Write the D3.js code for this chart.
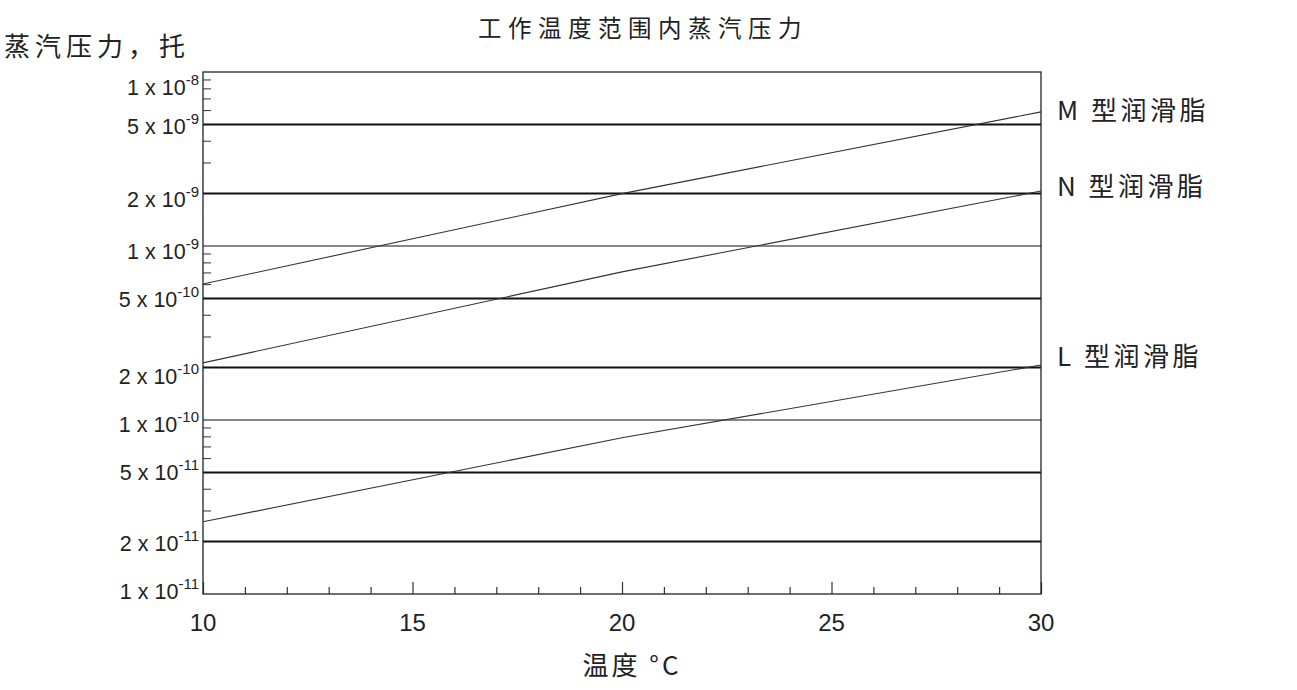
<!DOCTYPE html>
<html>
<head>
<meta charset="utf-8">
<script src="https://cdn.jsdelivr.net/npm/d3@7/dist/d3.min.js"></script>
<style>
  html, body { margin: 0; padding: 0; background: #fff; }
  svg { display: block; }
</style>
</head>
<body>
<svg id="chart" width="1297" height="690"></svg>
<script>
// ---- data ----
const temperatures = [10, 20, 30];
const seriesNames = ["M 型润滑脂", "N 型润滑脂", "L 型润滑脂"];
const mValues = [6.05e-10, 2.0e-9, 5.9e-9];
const nValues = [2.13e-10, 7.1e-10, 2.07e-9];
const lValues = [2.6e-11, 7.9e-11, 2.07e-10];
const gridMajor = [1e-10, 1e-9];                       // thin lines
const gridBold = [2e-11, 5e-11, 2e-10, 5e-10, 2e-9, 5e-9]; // bold lines
const yTickValues = [1e-8, 5e-9, 2e-9, 1e-9, 5e-10, 2e-10, 1e-10, 5e-11, 2e-11, 1e-11];
const yTickMantissa = ["1", "5", "2", "1", "5", "2", "1", "5", "2", "1"];
const yTickExponent = ["-8", "-9", "-9", "-9", "-10", "-10", "-10", "-11", "-11", "-11"];
const yMinorTicks = [9e-9, 8e-9, 7e-9, 6e-9, 4e-9, 3e-9,
                     9e-10, 8e-10, 7e-10, 6e-10, 4e-10, 3e-10,
                     9e-11, 8e-11, 7e-11, 6e-11, 4e-11, 3e-11];
const xTickLabels = [10, 15, 20, 25, 30];
const titleText = "工作温度范围内蒸汽压力";
const yTitle = "蒸汽压力，托";
const xTitle = "温度 °C";

// ---- layout ----
const pLeft = 203, pRight = 1041, pTop = 72, pBottom = 594;
const svg = d3.select("#chart");
const x = d3.scaleLinear().domain([10, 30]).range([pLeft, pRight]);
const y = d3.scaleLog().domain([1e-11, 1e-8]).range([pBottom, pTop]);
const latin = "'Liberation Sans', Arial, sans-serif";
const cjk = "'Noto Sans CJK SC', 'Noto Sans', sans-serif";
const labelDy = [16, 3, 6, 6, 2, 9, 5, 1, 2, -2];

// grid lines
svg.append("g").selectAll("line").data(gridMajor).join("line")
  .attr("x1", pLeft).attr("x2", pRight)
  .attr("y1", d => y(d)).attr("y2", d => y(d))
  .attr("stroke", "#111").attr("stroke-width", 1.2);
svg.append("g").selectAll("line").data(gridBold).join("line")
  .attr("x1", pLeft).attr("x2", pRight)
  .attr("y1", d => y(d)).attr("y2", d => y(d))
  .attr("stroke", "#111").attr("stroke-width", 2);

// minor y ticks (inside)
svg.append("g").selectAll("line").data(yMinorTicks).join("line")
  .attr("x1", pLeft).attr("x2", pLeft + 8)
  .attr("y1", d => y(d)).attr("y2", d => y(d))
  .attr("stroke", "#333").attr("stroke-width", 1);

// x axis ticks (inside)
const xAxis = d3.axisTop(x)
  .tickValues(d3.range(10, 31, 1))
  .tickSize(0)
  .tickFormat("");
const gx = svg.append("g").attr("transform", `translate(0,${pBottom})`).call(xAxis);
gx.select(".domain").remove();
gx.selectAll(".tick line")
  .attr("y2", d => d % 5 === 0 ? -12 : -7)
  .attr("stroke", "#333").attr("stroke-width", 1.2);

// x tick labels
svg.append("g").selectAll("text").data(xTickLabels).join("text")
  .attr("x", d => x(d)).attr("y", 631)
  .attr("text-anchor", "middle")
  .attr("font-family", latin).attr("font-size", 24).attr("fill", "#222")
  .text(d => d);

// y tick labels
const yl = svg.append("g").selectAll("text").data(yTickValues).join("text")
  .attr("x", 199).attr("y", (d, i) => y(d) + labelDy[i] + 7)
  .attr("text-anchor", "end")
  .attr("font-family", latin).attr("font-size", 21.5).attr("fill", "#222");
yl.append("tspan").text((d, i) => yTickMantissa[i] + " x 10");
yl.append("tspan").attr("dy", -10).attr("font-size", 15).text((d, i) => yTickExponent[i]);

// plot frame
svg.append("rect")
  .attr("x", pLeft).attr("y", pTop)
  .attr("width", pRight - pLeft).attr("height", pBottom - pTop)
  .attr("fill", "none").attr("stroke", "#222").attr("stroke-width", 1.3);

// series lines
const line = d3.line().x((d, i) => x(temperatures[i])).y(d => y(d));
const allSeries = [mValues, nValues, lValues];
svg.append("g").selectAll("path").data(allSeries).join("path")
  .attr("d", d => line(d))
  .attr("fill", "none").attr("stroke", "#333").attr("stroke-width", 1.1);

// series labels
const seriesLabelDy = [8, 5, 1];
svg.append("g").selectAll("text").data(allSeries).join("text")
  .attr("x", 1057).attr("y", (d, i) => y(d[d.length - 1]) + seriesLabelDy[i])
  .attr("font-family", cjk).attr("font-size", 26).attr("fill", "#222")
  .attr("letter-spacing", 3.5)
  .text((d, i) => seriesNames[i]);

// titles
svg.append("text").attr("x", 643).attr("y", 37)
  .attr("text-anchor", "middle")
  .attr("font-family", cjk).attr("font-size", 23.5).attr("letter-spacing", 6.5)
  .attr("fill", "#222").text(titleText);
svg.append("text").attr("x", 4).attr("y", 56)
  .attr("font-family", cjk).attr("font-size", 26).attr("letter-spacing", 5)
  .attr("fill", "#222").text(yTitle);
svg.append("text").attr("x", 632).attr("y", 675)
  .attr("text-anchor", "middle")
  .attr("font-family", cjk).attr("font-size", 26).attr("letter-spacing", 3)
  .attr("fill", "#222").text(xTitle);
</script>
</body>
</html>
